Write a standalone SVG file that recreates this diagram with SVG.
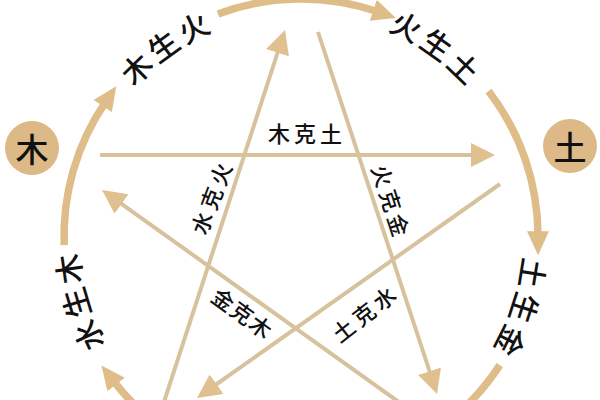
<svg xmlns="http://www.w3.org/2000/svg" width="600" height="400" viewBox="0 0 600 400">
<defs>
<style>
.arc{fill:none;stroke:#dfbd89;stroke-width:7.5;}
.ln{fill:none;stroke:#d7c29e;stroke-width:4;}
.t{font-family:"Noto Sans CJK SC","Noto Sans CJK JP",sans-serif;font-weight:500;fill:#111;text-anchor:middle;dominant-baseline:central;}
.big{font-size:30px;}
.sm{font-size:22px;}
.node{fill:#dcb987;}
</style>
<marker id="ha" markerUnits="userSpaceOnUse" markerWidth="26" markerHeight="24" refX="4" refY="11" orient="auto" viewBox="0 0 26 24">
<path d="M0,0 L24,11 L0,22 z" fill="#dfbd89"/>
</marker>
<marker id="hl" markerUnits="userSpaceOnUse" markerWidth="26" markerHeight="26" refX="4" refY="12" orient="auto" viewBox="0 0 26 26">
<path d="M0,0 L24,12 L0,24 z" fill="#dfc08e"/>
</marker>
</defs>
<rect width="600" height="400" fill="#ffffff"/>
<g id="connectors">
<path class="arc" d="M218,14 A237,237 0 0 1 377,11.5" marker-end="url(#ha)"/>
<path class="arc" d="M488.5,91.1 A237,237 0 0 1 538,235.2" marker-end="url(#ha)"/>
<path class="arc" d="M499.8,365.1 A237,237 0 0 1 419.5,441.2"/>
<path class="arc" d="M182.5,441.2 A237,237 0 0 1 113.7,381.3" marker-end="url(#ha)"/>
<path class="arc" d="M64.2,245.1 A237,237 0 0 1 105,102.8" marker-end="url(#ha)"/>
<line class="ln" x1="100" y1="155" x2="475" y2="155" marker-end="url(#hl)"/>
<line class="ln" x1="318" y1="32" x2="430.8" y2="375" marker-end="url(#hl)"/>
<line class="ln" x1="163" y1="405" x2="278.8" y2="49" marker-end="url(#hl)"/>
<line class="ln" x1="410" y1="410" x2="118.3" y2="201.6" marker-end="url(#hl)"/>
<line class="ln" x1="500" y1="184" x2="213.3" y2="386.5" marker-end="url(#hl)"/>
</g>
<g id="node-mu">
<circle class="node" cx="32" cy="148" r="27"/>
<text class="t" x="32" y="148" font-size="33">木</text>
</g>
<g id="node-tu">
<circle class="node" cx="570" cy="146" r="27"/>
<text class="t" x="570" y="146" font-size="33">土</text>
</g>
<g id="label-mushenghuo">
<text class="t big" transform="translate(135.6,67.7) rotate(-44.5)">木</text>
<text class="t big" transform="translate(162.6,44.8) rotate(-35.9)">生</text>
<text class="t big" transform="translate(192.8,26.3) rotate(-27.3)">火</text>
</g>
<g id="label-huoshengtu">
<text class="t big" transform="translate(407,25.2) rotate(26.7)">火</text>
<text class="t big" transform="translate(437.5,43.5) rotate(35.35)">生</text>
<text class="t big" transform="translate(464.9,66.2) rotate(44)">土</text>
</g>
<g id="label-tushengjin">
<text class="t big" transform="translate(534,273.7) rotate(99.2)">土</text>
<text class="t big" transform="translate(525.6,308.5) rotate(107.9)">生</text>
<text class="t big" transform="translate(512,341.7) rotate(116.6)">金</text>
</g>
<g id="label-shuishengmu">
<text class="t big" transform="translate(87.3,336.1) rotate(244.9)">水</text>
<text class="t big" transform="translate(74.8,303.4) rotate(253.4)">生</text>
<text class="t big" transform="translate(67.4,269.3) rotate(261.9)">木</text>
</g>
<g id="label-mukietu">
<text class="t sm" x="279 305 331" y="132">木克土</text>
</g>
<g id="label-huokejin">
<text class="t sm" transform="translate(392,200) rotate(72)" x="-26 0 26" y="0">火克金</text>
</g>
<g id="label-shuikehuo">
<text class="t sm" transform="translate(210,198) rotate(-69)" x="-26 0 26" y="0">水克火</text>
</g>
<g id="label-jinkemu">
<text class="t sm" transform="translate(243,312) rotate(36)" x="-23 0 23" y="0">金克木</text>
</g>
<g id="label-tukeshui">
<text class="t sm" transform="translate(363,313) rotate(-38)" x="-26 0 26" y="0">土克水</text>
</g>
</svg>
